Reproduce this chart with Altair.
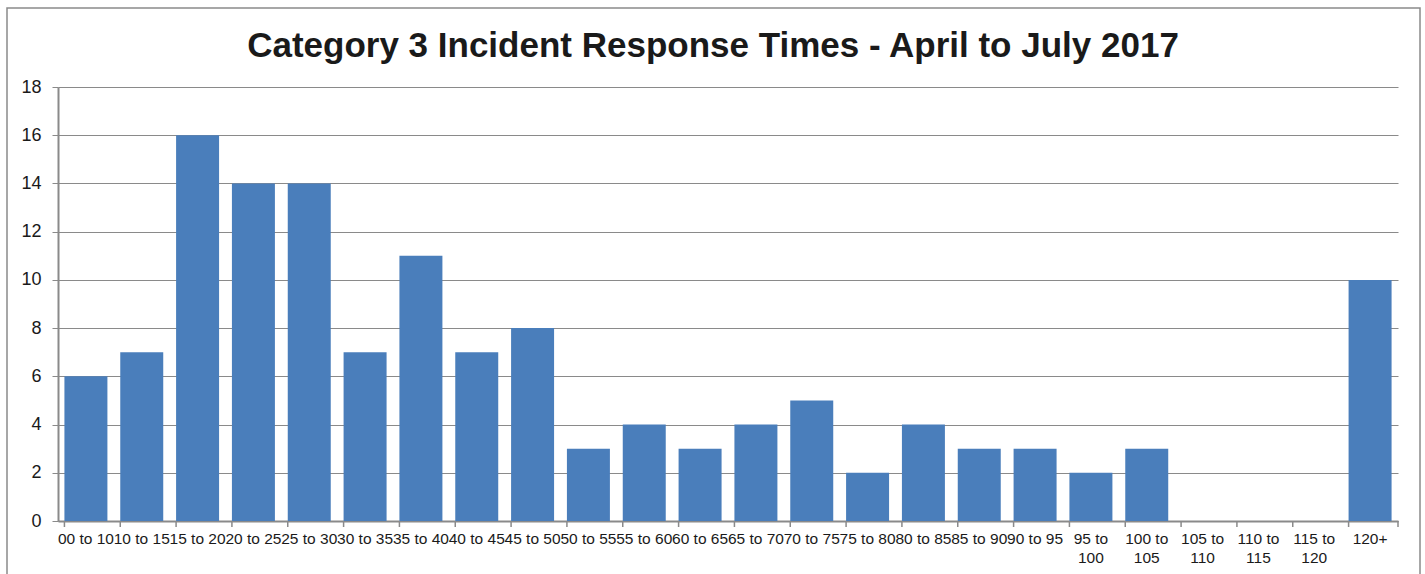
import altair as alt
import pandas as pd

categories = ["00 to 10", "10 to 15", "15 to 20", "20 to 25", "25 to 30", "30 to 35",
              "35 to 40", "40 to 45", "45 to 50", "50 to 55", "55 to 60", "60 to 65",
              "65 to 70", "70 to 75", "75 to 80", "80 to 85", "85 to 90", "90 to 95",
              "95 to 100", "100 to 105", "105 to 110", "110 to 115", "115 to 120", "120+"]
counts = [6, 7, 16, 14, 14, 7, 11, 7, 8, 3, 4, 3, 4, 5, 2, 4, 3, 3, 2, 3, 0, 0, 0, 10]
y_ticks = [0, 2, 4, 6, 8, 10, 12, 14, 16, 18]

title = "Category 3 Incident Response Times - April to July 2017"

W, H = 1340, 434
FONT = "Liberation Sans"
GREY = "#8a8a8a"

df = pd.DataFrame({"cat": categories, "n": counts})

x_scale = alt.Scale(domain=categories, paddingInner=0.23, paddingOuter=0.115)

label_expr = ("length(datum.label) >= 9 ? [slice(datum.label, 0, indexof(datum.label, 'to') + 2), "
              "slice(datum.label, indexof(datum.label, 'to') + 3)] : datum.label")

bars = alt.Chart(df).mark_bar(color="#4A7EBB").encode(
    x=alt.X("cat:N", scale=x_scale, sort=categories, title=None,
            axis=alt.Axis(labelAngle=0, labelOverlap=False, labelBound=False,
                          labelFontSize=15.5, labelFont=FONT, labelColor="#1a1a1a",
                          labelExpr=label_expr, labelLineHeight=19, labelPadding=10,
                          ticks=False, domainColor=GREY, domainWidth=2, grid=False)),
    y=alt.Y("n:Q", scale=alt.Scale(domain=[0, 18], nice=False), title=None,
            axis=alt.Axis(values=y_ticks, labelFontSize=18, labelFont=FONT, labelColor="#1a1a1a",
                          tickSize=6, tickColor=GREY, labelPadding=11,
                          domainColor=GREY, domainWidth=2, gridColor=GREY, gridWidth=1.2)),
)

ticks = alt.Chart(df).mark_rule(color=GREY, strokeWidth=1.5).encode(
    x=alt.X("cat:N", scale=x_scale, sort=categories, bandPosition=0),
    y=alt.value(H), y2=alt.value(H + 6),
)
one = pd.DataFrame({"t": [title]})
end_tick = alt.Chart(one).mark_rule(color=GREY, strokeWidth=1.5).encode(
    x=alt.value(W), y=alt.value(H), y2=alt.value(H + 6),
)
border = alt.Chart(one).mark_rect(
    fill=None, stroke=GREY, strokeWidth=1.5).encode(
    x=alt.value(-51), x2=alt.value(1362), y=alt.value(-79), y2=alt.value(520),
)
title_text = alt.Chart(one).mark_text(
    fontSize=35, font=FONT, fontWeight="bold", color="#1a1a1a",
    align="center", baseline="alphabetic").encode(
    text="t:N", x=alt.value(W / 2 - 15), y=alt.value(-30),
)

chart = alt.layer(border, bars, ticks, end_tick, title_text).properties(
    width=W, height=H,
    autosize=alt.AutoSizeParams(type="none"),
    padding={"left": 58, "top": 87, "right": 27, "bottom": 53},
    background="white",
).configure_view(stroke=None)

chart.save("out.html", embed_options={"renderer": "svg", "actions": False})
